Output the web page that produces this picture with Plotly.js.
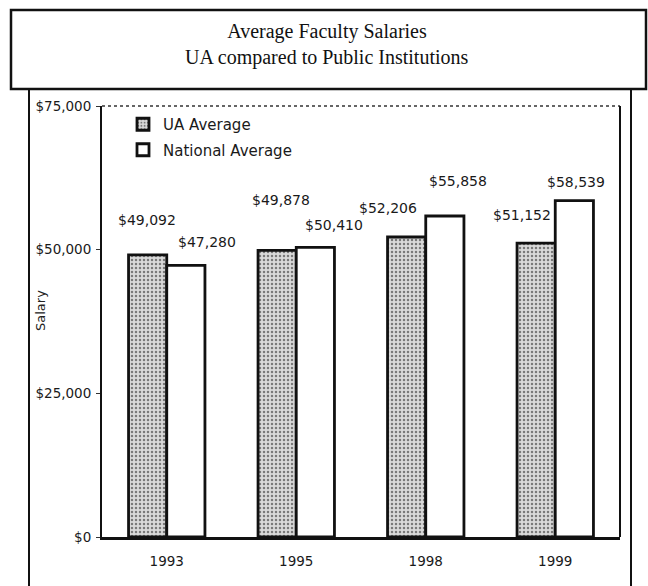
<!DOCTYPE html>
<html>
<head>
<meta charset="utf-8">
<script src="https://cdn.plot.ly/plotly-3.0.1.min.js"></script>
<style>
  html, body { margin: 0; padding: 0; background: #ffffff; }
  #chart { width: 648px; height: 586px; }
</style>
</head>
<body>
<div id="chart"></div>
<script>
// ---- data ----
const years = ['1993', '1995', '1998', '1999'];
const uaAverage = [49092, 49878, 52206, 51152];
const nationalAverage = [47280, 50410, 55858, 58539];
const seriesNames = ['UA Average', 'National Average'];
const yTickVals = [0, 25000, 50000, 75000];
const yTickText = ['$0', '$25,000', '$50,000', '$75,000'];
const yAxisTitle = 'Salary';
const chartTitle = 'Average Faculty Salaries';
const chartSubtitle = 'UA compared to Public Institutions';

// ---- label placement (pixel offsets from bar group centre / bar top; styling only) ----
const uaLabelDx = [-20, -15, -38, -33];
const uaLabelDy = [35, 50, 29, 28];
const natLabelDx = [40, 38, 32, 21];
const natLabelDy = [23, 22, 35, 19];

const fmt = v => '$' + v.toLocaleString('en-US');
const sans = 'DejaVu Sans, sans-serif';
const serif = 'Liberation Serif, serif';

// plot area in pixels
const PL = 102, PR = 620, PT = 106, PB = 537;
const toPx = p => (p - PL) / (PR - PL);
const toPy = p => (PB - p) / (PB - PT);

const traces = [
  {
    type: 'bar', name: seriesNames[0], x: years, y: uaAverage,
    legendgroup: 'a',
    marker: {
      color: '#d0d0d0',
      pattern: { shape: '.', fgcolor: '#7a7a7a', bgcolor: '#dadada', size: 4, solidity: 0.3 },
      line: { color: '#111', width: 2.8 }
    }
  },
  {
    type: 'bar', name: seriesNames[1], x: years, y: nationalAverage,
    legendgroup: 'b',
    marker: { color: '#ffffff', line: { color: '#111', width: 2.8 } }
  }
];

const annotations = [];
years.forEach((yr, i) => {
  annotations.push({
    x: i, y: uaAverage[i], xref: 'x', yref: 'y', text: fmt(uaAverage[i]),
    showarrow: false, xshift: uaLabelDx[i], yshift: uaLabelDy[i],
    xanchor: 'center', yanchor: 'middle',
    font: { family: sans, size: 14, color: '#1a1a1a' }
  });
  annotations.push({
    x: i, y: nationalAverage[i], xref: 'x', yref: 'y', text: fmt(nationalAverage[i]),
    showarrow: false, xshift: natLabelDx[i], yshift: natLabelDy[i],
    xanchor: 'center', yanchor: 'middle',
    font: { family: sans, size: 14, color: '#1a1a1a' }
  });
});
// second title line
annotations.push({
  x: toPx(327), y: toPy(57), xref: 'paper', yref: 'paper', text: chartSubtitle,
  showarrow: false, xanchor: 'center', yanchor: 'middle',
  font: { family: serif, size: 20, color: '#111' }
});
// y-axis title, placed where the reference shows it
annotations.push({
  x: toPx(40), y: toPy(311), xref: 'paper', yref: 'paper', text: yAxisTitle,
  textangle: -90, showarrow: false, xanchor: 'center', yanchor: 'middle',
  font: { family: sans, size: 13, color: '#222' }
});

const shapes = [
  // title box
  { type: 'rect', xref: 'paper', yref: 'paper', x0: toPx(11), x1: toPx(646), y0: toPy(89), y1: toPy(10),
    line: { color: '#111', width: 2.5 }, fillcolor: 'rgba(0,0,0,0)' },
  // outer chart frame sides
  { type: 'line', xref: 'paper', yref: 'paper', x0: toPx(29), x1: toPx(29), y0: toPy(89), y1: toPy(590),
    line: { color: '#111', width: 2 } },
  { type: 'line', xref: 'paper', yref: 'paper', x0: toPx(631), x1: toPx(631), y0: toPy(89), y1: toPy(590),
    line: { color: '#111', width: 2 } },
  // dotted top of plot area
  { type: 'line', xref: 'paper', yref: 'paper', x0: 0, x1: 1, y0: 1, y1: 1,
    line: { color: '#333', width: 1.5, dash: 'dot' } },
  // right side of plot area
  { type: 'line', xref: 'paper', yref: 'paper', x0: 1, x1: 1, y0: 0, y1: 1,
    line: { color: '#111', width: 2 } }
];

const layout = {
  width: 648, height: 586,
  margin: { l: PL, r: 648 - PR, t: PT, b: 586 - PB, pad: 0 },
  paper_bgcolor: '#ffffff', plot_bgcolor: '#ffffff',
  title: {
    text: chartTitle,
    font: { family: serif, size: 20, color: '#111' },
    x: 327 / 648, xref: 'container', xanchor: 'center',
    y: 1 - 31 / 586, yref: 'container', yanchor: 'middle'
  },
  barmode: 'group', bargap: 0.41, bargroupgap: 0,
  showlegend: true,
  legend: {
    x: toPx(123), y: toPy(108), xanchor: 'left', yanchor: 'top',
    bgcolor: 'rgba(0,0,0,0)', traceorder: 'grouped', tracegroupgap: 3,
    font: { family: sans, size: 15, color: '#1a1a1a' }
  },
  xaxis: {
    type: 'category', range: [-0.5, 3.5], autorange: false,
    showgrid: false, zeroline: false,
    showline: true, linecolor: '#111', linewidth: 2.5,
    ticks: '', ticklabelstandoff: 10,
    tickfont: { family: sans, size: 13.5, color: '#1a1a1a' }
  },
  yaxis: {
    range: [0, 75000], autorange: false, tickvals: yTickVals, ticktext: yTickText,
    showgrid: false, zeroline: false,
    showline: true, linecolor: '#111', linewidth: 2,
    ticks: 'outside', ticklen: 4, tickcolor: '#333', ticklabelstandoff: 2,
    tickfont: { family: sans, size: 13.5, color: '#1a1a1a' }
  },
  shapes: shapes,
  annotations: annotations
};

Plotly.newPlot('chart', traces, layout, { staticPlot: true, displayModeBar: false });
</script>
</body>
</html>
